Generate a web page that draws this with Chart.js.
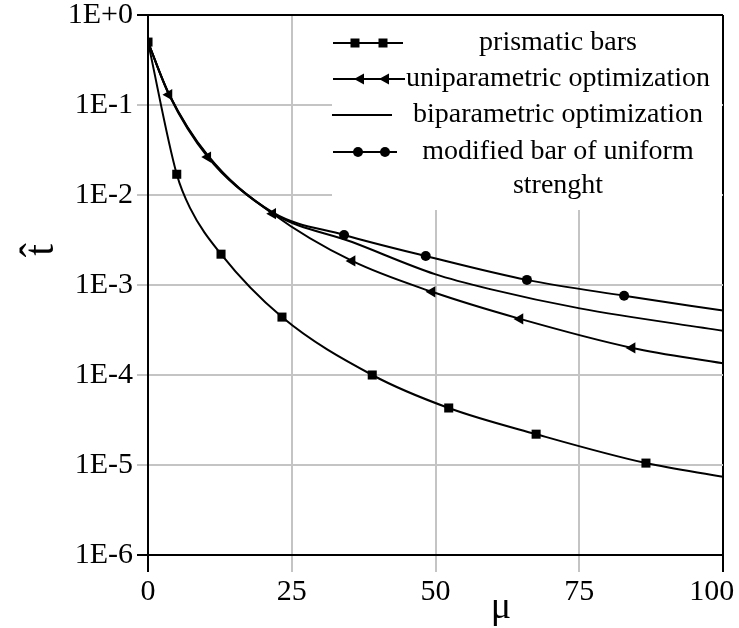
<!DOCTYPE html>
<html>
<head>
<meta charset="UTF-8">
<script src="https://cdn.jsdelivr.net/npm/chart.js"></script>
<style>
  html, body { margin: 0; padding: 0; background: #fff; }
  #wrap { width: 739px; height: 628px; position: relative; }
</style>
</head>
<body>
<div id="wrap"><canvas id="grafica"></canvas></div>
<script>
  // tick values / labels
  const xTicks = [0, 25, 50, 75, 100];
  const xTickLabels = ["0", "25", "50", "75", "100"];
  const yTicks = [1e-6, 1e-5, 1e-4, 1e-3, 1e-2, 1e-1, 1];
  const yTickLabels = ["1E-6", "1E-5", "1E-4", "1E-3", "1E-2", "1E-1", "1E+0"];

  // prismatic bars (squares)
  const prismaticMu = [0, 5.0, 7.3, 12.7, 23.3, 39.0, 52.3, 67.5, 86.6, 100];
  const prismaticT = [0.5, 0.017, 0.0072, 0.0022, 4.4e-4, 1.0e-4, 4.3e-5, 2.2e-5, 1.05e-5, 7.4e-6];
  const prismaticMarks = [0, 1, 3, 4, 5, 6, 7, 8];

  // uniparametric optimization (left triangles)
  const uniMu = [0, 3.65, 10.4, 21.7, 35.5, 49.4, 64.7, 84.2, 100];
  const uniT = [0.5, 0.13, 0.0264, 0.0062, 0.00185, 8.4e-4, 4.2e-4, 2.0e-4, 1.35e-4];
  const uniMarks = [1, 2, 3, 4, 5, 6, 7];

  // biparametric optimization (plain line)
  const biMu = [0, 3.65, 10.4, 21.7, 35.5, 49.9, 59.5, 75.1, 100];
  const biT = [0.5, 0.132, 0.027, 0.0063, 0.0030, 1.32e-3, 9.0e-4, 5.5e-4, 3.1e-4];
  const biMarks = [];

  // modified bar of uniform strenght (circles)
  const modMu = [0, 3.65, 10.4, 21.7, 34.1, 48.3, 65.9, 82.8, 100];
  const modT = [0.5, 0.133, 0.0275, 0.0064, 3.6e-3, 2.1e-3, 1.14e-3, 7.6e-4, 5.2e-4];
  const modMarks = [4, 5, 6, 7];

  const legendLabels = [
    ["prismatic bars"],
    ["uniparametric optimization"],
    ["biparametric optimization"],
    ["modified bar of uniform", "strenght"],
  ];

  const SERIF = '"Liberation Serif", "Times New Roman", serif';

  function toPoints(xs, ys) {
    return xs.map((x, i) => ({ x: x, y: ys[i] }));
  }

  function makeSet(label, xs, ys, marks, style, rot, r) {
    return {
      label: label,
      data: toPoints(xs, ys),
      borderColor: "#000",
      backgroundColor: "#000",
      borderWidth: 2,
      fill: false,
      cubicInterpolationMode: "monotone",
      pointStyle: style,
      pointRotation: rot,
      pointRadius: (c) => (marks.includes(c.dataIndex) ? r : 0),
      pointHoverRadius: 0,
      pointBorderWidth: 0,
      pointBackgroundColor: "#000",
    };
  }

  function drawMark(ctx, style, x, y) {
    ctx.beginPath();
    if (style === "rect") {
      ctx.rect(x - 4.5, y - 4.5, 9, 9);
    } else if (style === "triangle") {
      ctx.moveTo(x - 6, y);
      ctx.lineTo(x + 4, y - 5.5);
      ctx.lineTo(x + 4, y + 5.5);
      ctx.closePath();
    } else if (style === "circle") {
      ctx.arc(x, y, 5, 0, Math.PI * 2);
    }
    ctx.fill();
  }

  const legendBox = {
    id: "legendBox",
    beforeDatasetsDraw(chart) {
      const { ctx, chartArea: a } = chart;
      const left = 332, bottom = 210;
      ctx.save();
      ctx.fillStyle = "#fff";
      ctx.fillRect(left, a.top + 1, a.right - 1 - left, bottom - a.top - 1);

      const rows = [
        { y: 43, line: [333, 403], style: "rect", marks: [355, 383] },
        { y: 79, line: [333, 405], style: "triangle", marks: [360, 385] },
        { y: 115, line: [332, 392], style: null, marks: [] },
        { y: 152, line: [333, 397], style: "circle", marks: [358, 385] },
      ];
      ctx.strokeStyle = "#000";
      ctx.fillStyle = "#000";
      ctx.lineWidth = 2;
      ctx.font = "28px " + SERIF;
      ctx.textAlign = "center";
      ctx.textBaseline = "middle";
      rows.forEach((row, i) => {
        ctx.beginPath();
        ctx.moveTo(row.line[0], row.y);
        ctx.lineTo(row.line[1], row.y);
        ctx.stroke();
        row.marks.forEach((mx) => drawMark(ctx, row.style, mx, row.y));
        legendLabels[i].forEach((txt, k) => {
          ctx.fillText(txt, 558, row.y + k * 34);
        });
      });
      ctx.restore();
    },
    afterDraw(chart) {
      const { ctx } = chart;
      ctx.save();
      ctx.fillStyle = "#000";
      // y axis title (t hat), rotated
      ctx.translate(53, 250);
      ctx.rotate(-Math.PI / 2);
      ctx.font = "42px " + SERIF;
      ctx.textAlign = "center";
      ctx.textBaseline = "alphabetic";
      ctx.fillText("t\u0302", 0, 0);
      ctx.restore();

      ctx.save();
      ctx.fillStyle = "#000";
      ctx.font = "38px " + SERIF;
      ctx.textAlign = "center";
      ctx.textBaseline = "alphabetic";
      ctx.fillText("\u03bc", 501, 618);
      ctx.restore();
    },
  };

  const GRID = "#c4c4c4";

  new Chart(document.getElementById("grafica"), {
    type: "line",
    data: {
      datasets: [
        makeSet("prismatic bars", prismaticMu, prismaticT, prismaticMarks, "rect", 0, 6.4),
        makeSet("uniparametric optimization", uniMu, uniT, uniMarks, "triangle", -90, 6.5),
        makeSet("biparametric optimization", biMu, biT, biMarks, "circle", 0, 0),
        makeSet("modified bar of uniform strenght", modMu, modT, modMarks, "circle", 0, 5),
      ],
    },
    options: {
      responsive: true,
      maintainAspectRatio: false,
      animation: false,
      events: [],
      layout: { padding: { top: 15, right: 16, left: 0, bottom: 0 } },
      plugins: { legend: { display: false }, tooltip: { enabled: false } },
      scales: {
        x: {
          type: "linear",
          min: 0,
          max: 100,
          afterBuildTicks: (s) => { s.ticks = xTicks.map((v) => ({ value: v })); },
          afterFit: (s) => { s.height = 73; s.paddingLeft = 0; s.paddingRight = 0; },
          ticks: {
            autoSkip: false,
            maxRotation: 0,
            padding: 2,
            color: "#000",
            font: { family: SERIF, size: 30 },
            callback: (v, i, t) => (i === t.length - 1 ? xTickLabels[i] + "\u2002 " : xTickLabels[i]),
          },
          grid: {
            color: (c) => (c.tick && (c.tick.value === 0 || c.tick.value === 100) ? "#000" : GRID),
            tickColor: (c) => (c.tick && (c.tick.value === 0 || c.tick.value === 100) ? "#000" : GRID),
            lineWidth: 2,
            tickLength: 17,
          },
          border: { color: "#000", width: 2 },
        },
        y: {
          type: "logarithmic",
          min: 1e-6,
          max: 1,
          afterBuildTicks: (s) => { s.ticks = yTicks.map((v) => ({ value: v })); },
          afterFit: (s) => { s.width = 148; s.paddingTop = 0; s.paddingBottom = 0; },
          ticks: {
            autoSkip: false,
            padding: 4,
            color: "#000",
            font: { family: SERIF, size: 30 },
            callback: (v, i) => yTickLabels[i],
          },
          grid: {
            color: (c) => (c.tick && (c.tick.value === 1 || c.tick.value === 1e-6) ? "#000" : GRID),
            tickColor: (c) => (c.tick && (c.tick.value === 1 || c.tick.value === 1e-6) ? "#000" : GRID),
            lineWidth: 2,
            tickLength: 11,
          },
          border: { color: "#000", width: 2 },
        },
      },
    },
    plugins: [legendBox],
  });
</script>
</body>
</html>
